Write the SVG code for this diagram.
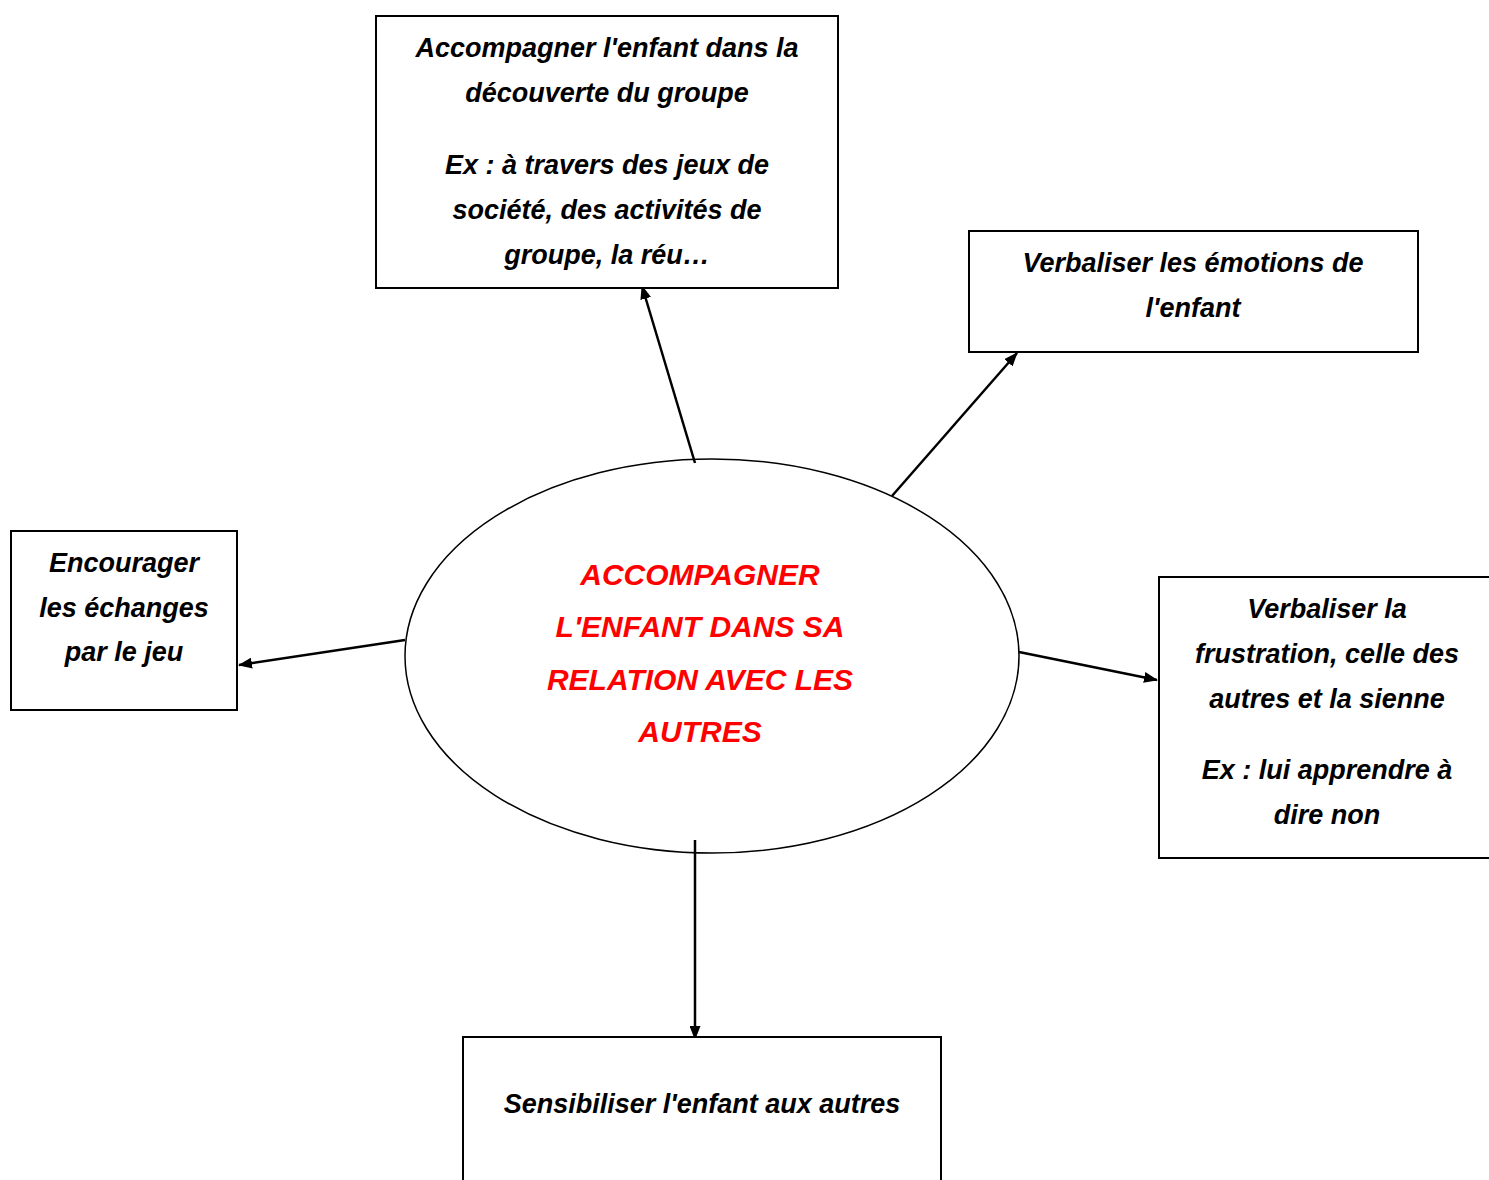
<svg xmlns="http://www.w3.org/2000/svg" width="1489" height="1180" viewBox="0 0 1489 1180">
<defs>
<marker id="arr" markerWidth="14" markerHeight="11" refX="13" refY="5.5" orient="auto" markerUnits="userSpaceOnUse">
<path d="M0,0 L14,5.5 L0,11 z" fill="#000"/>
</marker>
<style>
.box{fill:#fff;stroke:#000;stroke-width:2}
.t{font-family:"Liberation Sans",Arial,sans-serif;font-weight:bold;font-style:italic;font-size:27px;fill:#000;text-anchor:middle}
.c{font-family:"Liberation Sans",Arial,sans-serif;font-weight:bold;font-style:italic;font-size:30px;fill:#FF0000;text-anchor:middle}
.ln{stroke:#000;stroke-width:2.5;fill:none;marker-end:url(#arr)}
</style>
</defs>
<rect width="1489" height="1180" fill="#fff"/>
<g id="connectors">
<line class="ln" x1="695" y1="463" x2="642" y2="286"/>
<line class="ln" x1="892" y1="496" x2="1017" y2="353"/>
<line class="ln" x1="405" y1="640" x2="239" y2="665"/>
<line class="ln" x1="1019" y1="652" x2="1157" y2="680"/>
<line class="ln" x1="695" y1="840" x2="695" y2="1039"/>
</g>
<g id="center">
<ellipse cx="712" cy="656" rx="307" ry="197" fill="none" stroke="#000" stroke-width="1.5"/>
<text class="c" x="700" y="585">ACCOMPAGNER</text>
<text class="c" x="700" y="637">L'ENFANT DANS SA</text>
<text class="c" x="700" y="690">RELATION AVEC LES</text>
<text class="c" x="700" y="742">AUTRES</text>
</g>
<g id="node-top">
<rect class="box" x="376" y="16" width="462" height="272"/>
<text class="t" x="607" y="57">Accompagner l'enfant dans la</text>
<text class="t" x="607" y="102">découverte du groupe</text>
<text class="t" x="607" y="174">Ex : à travers des jeux de</text>
<text class="t" x="607" y="219">société, des activités de</text>
<text class="t" x="607" y="264">groupe, la réu…</text>
</g>
<g id="node-topright">
<rect class="box" x="969" y="231" width="449" height="121"/>
<text class="t" x="1193" y="272">Verbaliser les émotions de</text>
<text class="t" x="1193" y="317">l'enfant</text>
</g>
<g id="node-left">
<rect class="box" x="11" y="531" width="226" height="179"/>
<text class="t" x="124" y="572">Encourager</text>
<text class="t" x="124" y="617">les échanges</text>
<text class="t" x="124" y="661">par le jeu</text>
</g>
<g id="node-right">
<rect class="box" x="1159" y="577" width="334" height="281"/>
<text class="t" x="1327" y="618">Verbaliser la</text>
<text class="t" x="1327" y="663">frustration, celle des</text>
<text class="t" x="1327" y="708">autres et la sienne</text>
<text class="t" x="1327" y="779">Ex : lui apprendre à</text>
<text class="t" x="1327" y="824">dire non</text>
</g>
<g id="node-bottom">
<rect class="box" x="463" y="1037" width="478" height="150"/>
<text class="t" x="702" y="1113">Sensibiliser l'enfant aux autres</text>
</g>
</svg>
